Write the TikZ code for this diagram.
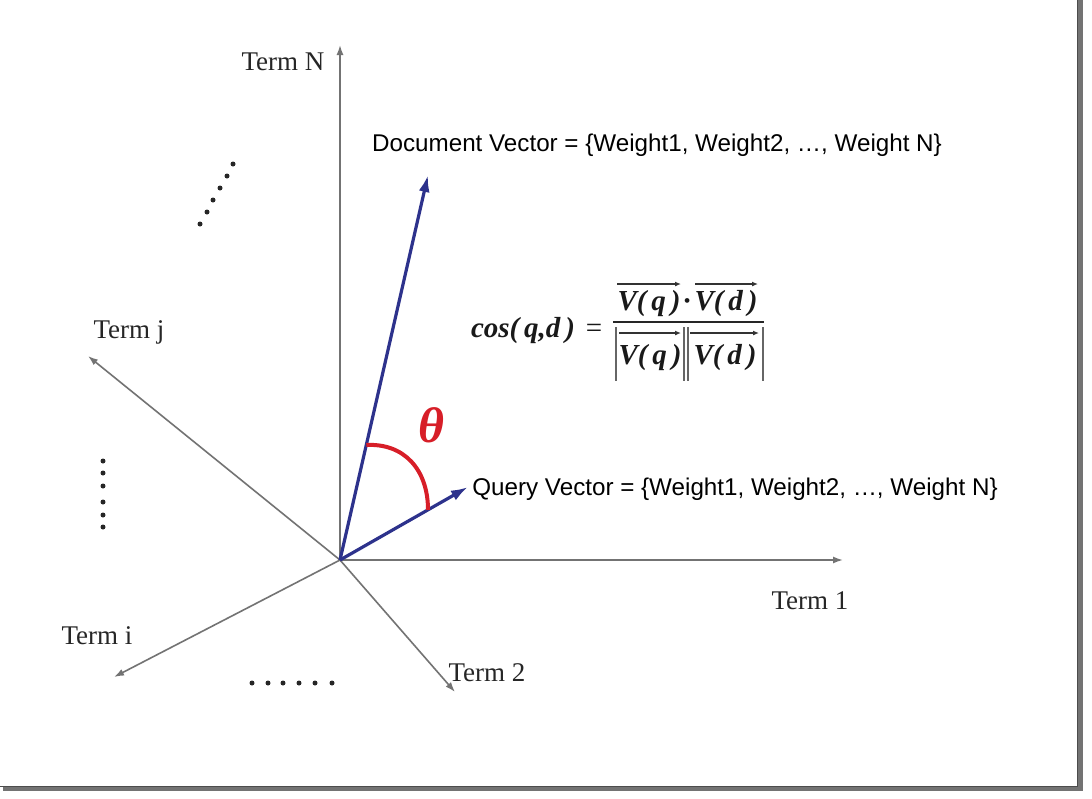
\documentclass[tikz,border=0pt]{standalone}
\usepackage{fontspec}
\setmainfont{Liberation Serif}
\newfontfamily\arialfont{Liberation Sans}
\usetikzlibrary{arrows.meta, calc}
\definecolor{vecblue}{RGB}{45,50,140}
\definecolor{arcred}{RGB}{215,30,40}
\definecolor{axisgray}{RGB}{115,115,115}
\tikzset{
  axis/.style={axisgray, line width=1.6pt, -{Latex[length=10pt,width=7pt]}},
  vec/.style={vecblue, line width=3.2pt, -{Latex[length=17pt,width=11pt]}},
  termlabel/.style={font=\fontsize{27}{31}\selectfont, text=black!85},
  veclabel/.style={font=\arialfont\fontsize{24.2}{28}\selectfont},
  dotmark/.style={fill=black!85, circle, inner sep=0pt, minimum size=5pt},
  formula/.style={font=\bfseries\itshape\fontsize{29}{33}\selectfont, inner sep=1pt, anchor=base, text=black!90},
  ovarrow/.style={black!80, line width=1.2pt, -{Latex[length=6pt,width=5pt]}},
  normbar/.style={black!60, line width=1.2pt},
}
\begin{document}
\begin{tikzpicture}[x=1pt,y=-1pt]
  \useasboundingbox (0,0) rectangle (1092,798);
  \fill[white] (0,0) rectangle (1092,798);
  % frame with shadow
  \fill[black!55] (3,786) rectangle (1083,791);
  \fill[black!55] (1077,0) rectangle (1083,791);
  \draw[black!70, line width=1pt] (0,786) -- (1077,786) -- (1077,0);
  % axes
  \coordinate (O) at (340,560);
  \coordinate (tN) at (340,45);
  \coordinate (t1) at (843,560);
  \coordinate (tj) at (88,356);
  \coordinate (ti) at (114,677);
  \coordinate (t2) at (455,692);
  \draw[axis] (O) -- (tN);
  \draw[axis] (O) -- (t1);
  \draw[axis] (O) -- (tj);
  \draw[axis] (O) -- (ti);
  \draw[axis] (O) -- (t2);
  \node[termlabel] (lN) at (283,62) {Term N};
  \node[termlabel] (l1) at (810,601) {Term 1};
  \node[termlabel] (lj) at (129,332) {Term j};
  \node[termlabel] (li) at (97,636) {Term i};
  \node[termlabel] (l2) at (487,673) {Term 2};
  % vectors
  \coordinate (dv) at (428,175);
  \coordinate (qv) at (468,487);
  \draw[vec] (O) -- (dv);
  \draw[vec] (O) -- (qv);
  \node[veclabel] (ld) at (657,145) {Document Vector = \{Weight1, Weight2, …, Weight N\}};
  \node[veclabel] (lq) at (735,489) {Query Vector = \{Weight1, Weight2, …, Weight N\}};
  % angle
  \coordinate (a1) at ($(O)!0.2987!(dv)$);
  \coordinate (a2) at ($(O)!0.6875!(qv)$);
  \draw[arcred, line width=4pt] (a1) .. controls +(38,-2) and +(0,-40) .. (a2);
  \node[arcred, font=\bfseries\itshape\fontsize{50}{50}\selectfont] (th) at (431,425) {θ};
  % formula
  \node[formula] (cos) at (523,337) {cos(\,q,d\,)};
  \node[formula, font=\fontsize{29}{33}\selectfont] (eq) at (594,337) {=};
  \node[formula] (nq) at (649,310) {V(\,q\,)};
  \node[formula] (ndot) at (687,310) {·};
  \node[formula] (nd) at (726,310) {V(\,d\,)};
  \node[formula] (dq) at (650,364) {V(\,q\,)};
  \node[formula] (dd) at (725,364) {V(\,d\,)};
  \draw[black!85, line width=1.4pt] (613,322) -- (764,322);
  \draw[ovarrow] (617,284) -- (681,284);
  \draw[ovarrow] (695,284) -- (758,284);
  \draw[ovarrow] (619,333) -- (681,333);
  \draw[ovarrow] (690,333) -- (759,333);
  \draw[normbar] (616,327) -- (616,381);
  \draw[normbar] (684,327) -- (684,381);
  \draw[normbar] (688,327) -- (688,381);
  \draw[normbar] (763,327) -- (763,381);
  % dots
  \foreach \x/\y in {233/164, 227/176, 220/188, 213/200, 207/212, 200/224}
    \node[dotmark] at (\x,\y) {};
  \foreach \y in {461, 473, 486, 502, 515, 527}
    \node[dotmark] at (103,\y) {};
  \foreach \x in {252, 268, 283, 299, 315, 332}
    \node[dotmark] at (\x,683) {};
\end{tikzpicture}
\end{document}
